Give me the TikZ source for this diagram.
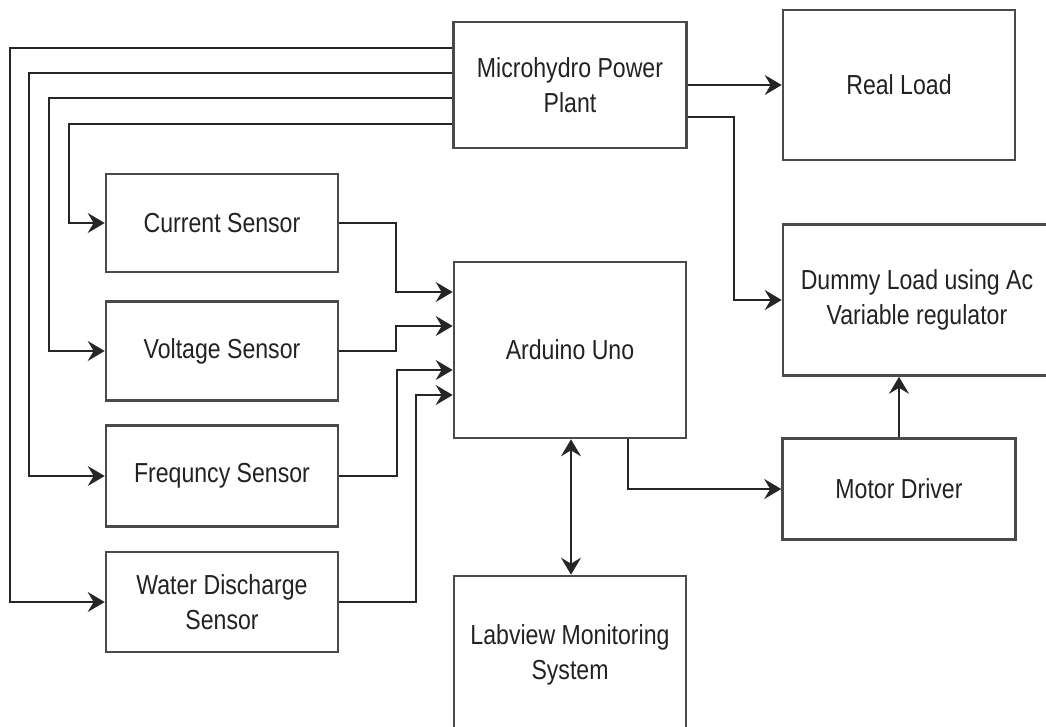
\documentclass[tikz,border=0pt]{standalone}
\usepackage{fontspec}
\setmainfont{Liberation Sans}[FakeStretch=0.84]
\usetikzlibrary{arrows.meta}
\definecolor{boxline}{HTML}{4A4A4A}
\definecolor{txt}{HTML}{222222}
\tikzset{
  blk/.style={draw=boxline, line width=2.6pt, rectangle, inner sep=0pt,
    text=txt, align=center, font=\fontsize{27.5}{35}\selectfont},
  tip/.tip={Stealth[length=17pt,width=20pt,inset=6pt]},
  conn/.style={draw=black!85, line width=2pt, -tip},
  both/.style={draw=black!85, line width=2pt, tip-tip}
}
\begin{document}
\begin{tikzpicture}[x=1pt,y=-1pt]
\useasboundingbox (0,0) rectangle (1046,726);
\clip (0,0) rectangle (1046,726);
% boxes
\node[blk, minimum width=233pt, minimum height=126pt] (mh) at (570,85) {Microhydro Power\\Plant};
\node[blk, minimum width=232pt, minimum height=150pt] (rl) at (899,85) {Real Load};
\node[blk, minimum width=232pt, minimum height=98pt] (cs) at (222,223) {Current Sensor};
\node[blk, minimum width=232pt, minimum height=99pt] (vs) at (222,351) {Voltage Sensor};
\node[blk, minimum width=232pt, minimum height=101pt] (fs) at (222,476) {Frequncy Sensor};
\node[blk, minimum width=232pt, minimum height=100pt] (ws) at (222,602) {Water Discharge\\Sensor};
\node[blk, minimum width=232pt, minimum height=176pt] (ar) at (570,350) {Arduino Uno};
\node[blk, minimum width=268pt, minimum height=151pt] (dl) at (917,300) {Dummy Load using Ac\\Variable regulator};
\node[blk, minimum width=233pt, minimum height=101pt] (md) at (899,489) {Motor Driver};
\node[blk, minimum width=232pt, minimum height=158pt] (lv) at (570,655) {Labview Monitoring\\System};
% coordinates for bends
\coordinate (x10) at (10,0);
\coordinate (x29) at (29,0);
\coordinate (x49) at (49,0);
\coordinate (x69) at (69,0);
% plant to sensors
\draw[conn] (mh.west |- 0,48) -| (x10 |- ws.west) -- (ws.west);
\draw[conn] (mh.west |- 0,73) -| (x29 |- fs.west) -- (fs.west);
\draw[conn] (mh.west |- 0,98) -| (x49 |- vs.west) -- (vs.west);
\draw[conn] (mh.west |- 0,124) -| (x69 |- cs.west) -- (cs.west);
% sensors to arduino
\draw[conn] (cs.east) -| (396,292) -- (ar.west |- 0,292);
\draw[conn] (vs.east) -| (396,326) -- (ar.west |- 0,326);
\draw[conn] (fs.east) -| (397,370) -- (ar.west |- 0,370);
\draw[conn] (ws.east) -| (416,395) -- (ar.west |- 0,395);
% plant to loads
\draw[conn] (mh.east |- rl.west) -- (rl.west);
\draw[conn] (mh.east |- 0,117) -| (734,300) -- (dl.west);
% arduino to motor driver
\draw[conn] (ar.south -| 628,0) |- (md.west);
% motor driver to dummy load
\draw[conn] (md.north) -- (md.north |- dl.south);
% arduino <-> labview
\draw[both] (ar.south -| 571,0) -- (lv.north -| 571,0);
\end{tikzpicture}
\end{document}
